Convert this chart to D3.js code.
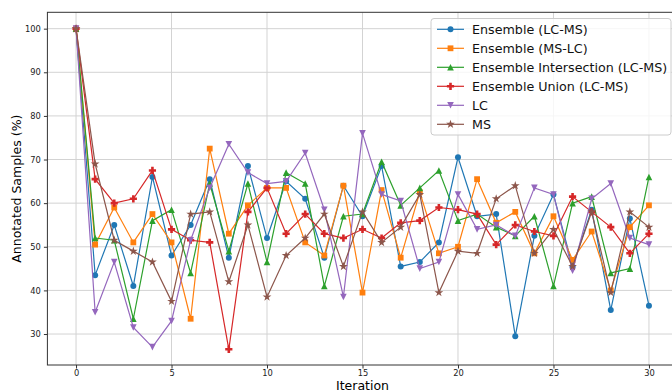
<!DOCTYPE html>
<html>
<head>
<meta charset="utf-8">
<script src="https://cdn.jsdelivr.net/npm/d3@7"></script>
<style>
body { margin: 0; background: white; }
svg { display: block; font-family: "DejaVu Sans", sans-serif; }
</style>
</head>
<body>
<svg></svg>
<script>
var w = 672
var h = 392

var iterations = d3.range(0, 31)
var xTicks = [0, 5, 10, 15, 20, 25, 30]
var yTicks = [30, 40, 50, 60, 70, 80, 90, 100]

var seriesNames = ["Ensemble (LC-MS)", "Ensemble (MS-LC)", "Ensemble Intersection (LC-MS)", "Ensemble Union (LC-MS)", "LC", "MS"]
var seriesColors = ["#1f77b4", "#ff7f0e", "#2ca02c", "#d62728", "#9467bd", "#8c564b"]
var seriesMarkers = ["circle", "square", "triUp", "plus", "triDown", "star"]

var ensLcMs = [100, 43.5, 55, 41, 66, 48, 55, 65.5, 47.5, 68.5, 52, 65, 61, 47.5, 64, 57, 68.5, 45.5, 46.5, 51, 70.5, 57, 57.5, 29.5, 52.5, 62, 45.5, 58.5, 35.5, 56.5, 36.5]
var ensMsLc = [100, 50.5, 59, 51, 57.5, 51, 33.5, 72.5, 53, 59.5, 63.5, 63.5, 51, 48, 64, 39.5, 63, 47.5, 62.5, 48.5, 50, 65.5, 55.5, 58, 48.5, 57, 47, 53.5, 40, 54.5, 59.5]
var ensInter = [100, 52, 51.5, 33.5, 56, 58.5, 44, 64.5, 49, 64.5, 46.5, 67, 64.5, 41, 57, 57.5, 69.5, 59.5, 63.5, 67.5, 56, 57.5, 54.5, 52.5, 57, 41, 60, 61.5, 44, 45, 66]
var ensUnion = [100, 65.5, 60, 61, 67.5, 54, 51.5, 51, 26.5, 58, 63.5, 53, 57.5, 53, 52, 54, 52, 55.5, 56, 59, 58.5, 57.5, 50.5, 55, 53.5, 52.5, 61.5, 58, 54.5, 48.5, 53]
var lcVals = [100, 35, 46.5, 31.5, 27, 33, 51.5, 63.5, 73.5, 67, 64.5, 65, 71.5, 58.5, 38.5, 76, 62, 60.5, 45, 46.5, 62, 54, 55, 52.5, 63.5, 62, 44.5, 61, 64.5, 52, 50.5]
var msVals = [100, 69, 51.5, 49, 46.5, 37.5, 57.5, 58, 42, 55, 38.5, 48, 52, 57.5, 45.5, 58, 51, 54.5, 62, 39.5, 49, 48.5, 61, 64, 48.5, 54, 45.5, 58, 39.5, 58, 54.5]

var allSeries = [ensLcMs, ensMsLc, ensInter, ensUnion, lcVals, msVals]

var svg = d3.select("svg")
	.attr("width", w)
	.attr("height", h)

var x = d3.scaleLinear()
	.domain([-1.5, 31.5])
	.range([47.4, 677.6])

var y = d3.scaleLinear()
	.domain([22.9, 103.75])
	.range([365, 12.3])

// grid
svg.append("g")
	.selectAll("line")
	.data(xTicks)
	.join("line")
	.attr("x1", function(d){ return x(d) })
	.attr("x2", function(d){ return x(d) })
	.attr("y1", y.range()[1])
	.attr("y2", y.range()[0])
	.attr("stroke", "#d3d3d3")
	.attr("stroke-width", 1)

svg.append("g")
	.selectAll("line")
	.data(yTicks)
	.join("line")
	.attr("x1", x.range()[0])
	.attr("x2", x.range()[1])
	.attr("y1", function(d){ return y(d) })
	.attr("y2", function(d){ return y(d) })
	.attr("stroke", "#d3d3d3")
	.attr("stroke-width", 1)

// axes
var xAxis = svg.append("g")
	.attr("transform", "translate(0," + y.range()[0] + ")")
	.call(d3.axisBottom(x).tickValues(xTicks).tickSize(3.5).tickPadding(2))

var yAxis = svg.append("g")
	.attr("transform", "translate(" + x.range()[0] + ",0)")
	.call(d3.axisLeft(y).tickValues(yTicks).tickSize(3.5).tickPadding(3))

svg.selectAll(".tick text")
	.style("font-family", "DejaVu Sans")
	.style("font-size", "8.3px")
	.attr("fill", "#222")
svg.selectAll(".tick line").attr("stroke", "#333")
svg.selectAll(".domain").remove()

// frame
svg.append("rect")
	.attr("x", x.range()[0])
	.attr("y", y.range()[1])
	.attr("width", x.range()[1] - x.range()[0])
	.attr("height", y.range()[0] - y.range()[1])
	.attr("fill", "none")
	.attr("stroke", "#333")
	.attr("stroke-width", 1)

// axis labels
svg.append("text")
	.attr("x", (x.range()[0] + x.range()[1]) / 2)
	.attr("y", 390)
	.attr("text-anchor", "middle")
	.style("font-size", "12.5px")
	.text("Iteration")

svg.append("text")
	.attr("transform", "translate(21," + ((y.range()[0] + y.range()[1]) / 2) + ") rotate(-90)")
	.attr("text-anchor", "middle")
	.style("font-size", "12.5px")
	.text("Annotated Samples (%)")

function markerPath(type){
	if (type == "circle") return "M3,0A3,3 0 1,1 -3,0A3,3 0 1,1 3,0Z"
	if (type == "square") return "M-2.9,-2.9H2.9V2.9H-2.9Z"
	if (type == "triUp") return "M0,-3.3L3.3,3.3L-3.3,3.3Z"
	if (type == "triDown") return "M0,3.3L3.3,-3.3L-3.3,-3.3Z"
	if (type == "plus") {
		var e = 3.6, a = 1.3
		return "M" + (-a) + "," + (-e) + "H" + a + "V" + (-a) + "H" + e + "V" + a + "H" + a + "V" + e + "H" + (-a) + "V" + a + "H" + (-e) + "V" + (-a) + "H" + (-a) + "Z"
	}
	if (type == "star") return d3.symbol().type(d3.symbolStar).size(24)()
}

var line = d3.line()
	.x(function(d, i){ return x(iterations[i]) })
	.y(function(d){ return y(d) })

var plot = svg.append("g")

allSeries.forEach(function(vals, k){
	var g = plot.append("g")
	g.append("path")
		.datum(vals)
		.attr("d", line)
		.attr("fill", "none")
		.attr("stroke", seriesColors[k])
		.attr("stroke-width", 1.2)
	g.selectAll("path.mk")
		.data(vals)
		.join("path")
		.attr("class", "mk")
		.attr("d", markerPath(seriesMarkers[k]))
		.attr("transform", function(d, i){ return "translate(" + x(iterations[i]) + "," + y(d) + ")" })
		.attr("fill", seriesColors[k])
})

// legend
var legend = svg.append("g")

legend.append("rect")
	.attr("x", 431)
	.attr("y", 18.5)
	.attr("width", 240)
	.attr("height", 116.5)
	.attr("rx", 3)
	.attr("fill", "white")
	.attr("fill-opacity", 0.8)
	.attr("stroke", "#cccccc")
	.attr("stroke-width", 1)

var items = legend.selectAll("g.item")
	.data(seriesNames)
	.join("g")
	.attr("class", "item")
	.attr("transform", function(d, i){ return "translate(0," + (29.3 + i * 19) + ")" })

items.append("line")
	.attr("x1", 437)
	.attr("x2", 464)
	.attr("stroke", function(d, i){ return seriesColors[i] })
	.attr("stroke-width", 1.2)

items.append("path")
	.attr("d", function(d, i){ return markerPath(seriesMarkers[i]) })
	.attr("transform", "translate(450.5,0)")
	.attr("fill", function(d, i){ return seriesColors[i] })

items.append("text")
	.attr("x", 472)
	.attr("y", 4.5)
	.style("font-size", "12.7px")
	.attr("fill", "#111")
	.text(function(d){ return d })
</script>
</body>
</html>
